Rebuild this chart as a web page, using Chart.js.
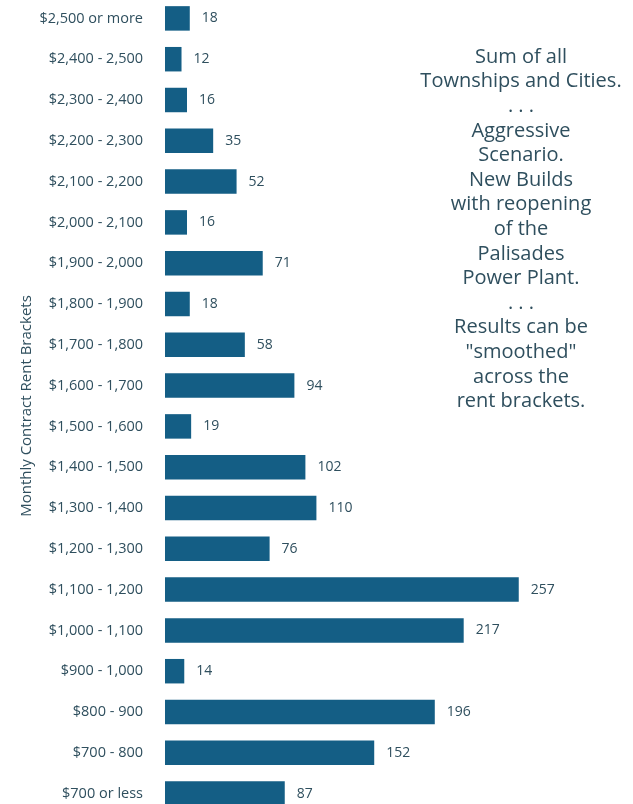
<!DOCTYPE html>
<html>
<head>
<meta charset="utf-8">
<script src="https://cdn.jsdelivr.net/npm/chart.js@4"></script>
<style>
  html, body { margin: 0; padding: 0; background: #fff; overflow: hidden; }
  #wrap { position: absolute; left: 0; top: -2px; width: 633px; height: 816px; }
</style>
</head>
<body>
<div id="wrap"><canvas id="myChart"></canvas></div>
<script>
var brackets = ["$2,500 or more", "$2,400 - 2,500", "$2,300 - 2,400", "$2,200 - 2,300", "$2,100 - 2,200",
  "$2,000 - 2,100", "$1,900 - 2,000", "$1,800 - 1,900", "$1,700 - 1,800", "$1,600 - 1,700",
  "$1,500 - 1,600", "$1,400 - 1,500", "$1,300 - 1,400", "$1,200 - 1,300", "$1,100 - 1,200",
  "$1,000 - 1,100", "$900 - 1,000", "$800 - 900", "$700 - 800", "$700 or less"];
var units = [18, 12, 16, 35, 52, 16, 71, 18, 58, 94, 19, 102, 110, 76, 257, 217, 14, 196, 152, 87];
var note = ["Sum of all", "Townships and Cities.", ". . .", "Aggressive", "Scenario.", "New Builds",
  "with reopening", "of the", "Palisades", "Power Plant.", ". . .", "Results can be",
  "\"smoothed\"", "across the", "rent brackets."];

var textColor = "#2f4f5e";
var fontName = "'Open Sans', sans-serif";

// value labels at the end of each bar
var valueLabels = {
  id: "valueLabels",
  afterDatasetsDraw: function (chart) {
    var c = chart.ctx;
    var meta = chart.getDatasetMeta(0);
    c.save();
    c.font = "14px " + fontName;
    c.fillStyle = textColor;
    c.textAlign = "left";
    c.textBaseline = "middle";
    meta.data.forEach(function (bar, i) {
      c.fillText(units[i], bar.x + 12, bar.y);
    });
    c.restore();
  }
};

// note text on the right
var noteText = {
  id: "noteText",
  afterDraw: function (chart) {
    var c = chart.ctx;
    c.save();
    c.font = "20px " + fontName;
    c.fillStyle = textColor;
    c.textAlign = "center";
    c.textBaseline = "middle";
    note.forEach(function (line, i) {
      c.fillText(line, 521, 59 + i * 24.6);
    });
    c.restore();
  }
};

new Chart(document.getElementById("myChart"), {
  type: "bar",
  data: {
    labels: brackets,
    datasets: [{
      data: units,
      backgroundColor: "#145e85",
      borderWidth: 0,
      categoryPercentage: 0.6,
      barPercentage: 1
    }]
  },
  options: {
    indexAxis: "y",
    responsive: true,
    maintainAspectRatio: false,
    animation: false,
    layout: { padding: 0 },
    plugins: {
      legend: { display: false },
      tooltip: { enabled: false }
    },
    scales: {
      x: {
        display: false,
        min: 0,
        max: 340
      },
      y: {
        grid: { display: false },
        border: { display: false },
        ticks: {
          color: textColor,
          padding: 14,
          font: { family: fontName, size: 14.5 }
        },
        title: {
          display: true,
          text: "Monthly Contract Rent Brackets",
          color: textColor,
          font: { family: fontName, size: 15 },
          padding: { top: 18, bottom: 0 }
        },
        afterFit: function (scale) {
          scale.width = 165;
          scale.paddingTop = 0;
          scale.paddingBottom = 0;
        }
      }
    }
  },
  plugins: [valueLabels, noteText]
});
</script>
</body>
</html>
